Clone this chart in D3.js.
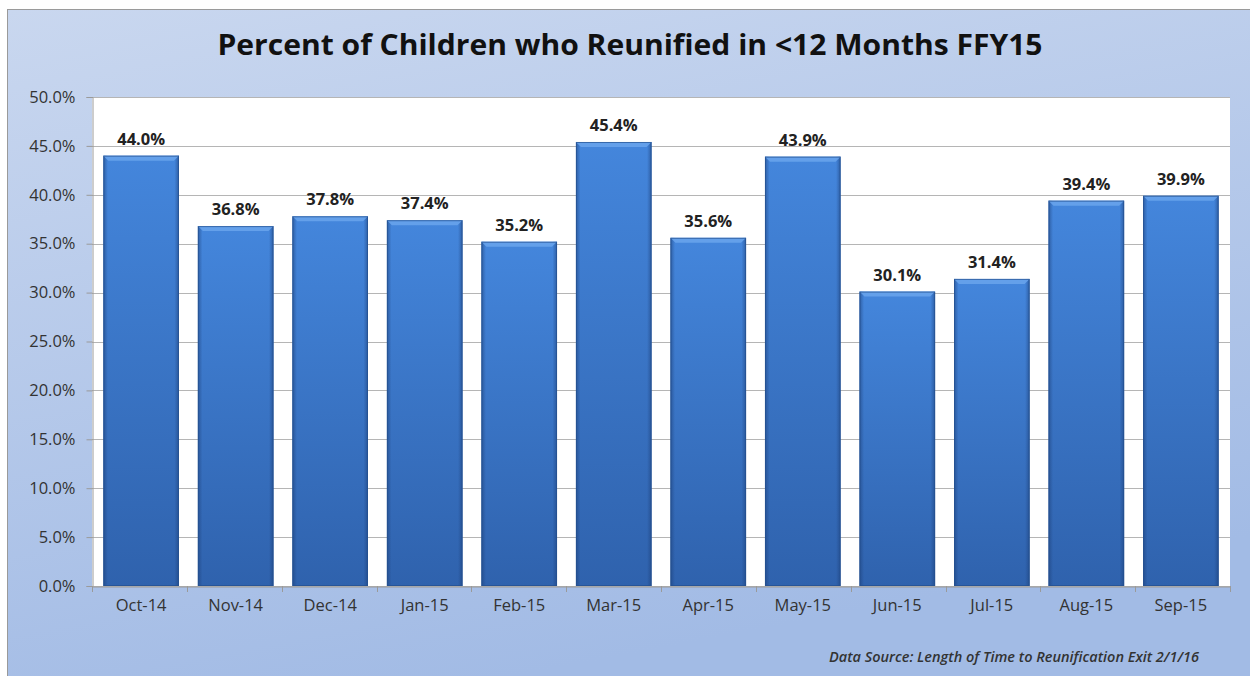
<!DOCTYPE html>
<html>
<head>
<meta charset="utf-8">
<script src="https://cdn.jsdelivr.net/npm/d3@7"></script>
<style>
  html, body { margin: 0; padding: 0; background: #ffffff; }
  svg { display: block; }
</style>
</head>
<body>
<svg id="chart" width="1250" height="676"></svg>
<script>
// Monthly reunification rates, FFY15
const months = ["Oct-14", "Nov-14", "Dec-14", "Jan-15", "Feb-15", "Mar-15",
                "Apr-15", "May-15", "Jun-15", "Jul-15", "Aug-15", "Sep-15"];
const percentReunified = [44.0, 36.8, 37.8, 37.4, 35.2, 45.4, 35.6, 43.9, 30.1, 31.4, 39.4, 39.9];
const yTicks = [0, 5, 10, 15, 20, 25, 30, 35, 40, 45, 50];
const titleText = "Percent of Children who Reunified in <12 Months FFY15";
const sourceText = "Data Source:  Length of Time to Reunification Exit 2/1/16";

const svg = d3.select("#chart");
const defs = svg.append("defs");

// Panel background: soft blue wash, lighter toward the upper right
const bg = defs.append("linearGradient").attr("id", "panelBg")
  .attr("x1", "0").attr("y1", "0").attr("x2", "0.35").attr("y2", "1");
bg.append("stop").attr("offset", "0%").attr("stop-color", "#c9d7ef");
bg.append("stop").attr("offset", "100%").attr("stop-color", "#a2bbe5");

// Bar body: vertical fade from bright to deep blue
const barV = defs.append("linearGradient").attr("id", "barV")
  .attr("x1", "0").attr("y1", "0").attr("x2", "0").attr("y2", "1");
barV.append("stop").attr("offset", "0%").attr("stop-color", "#4486dc");
barV.append("stop").attr("offset", "100%").attr("stop-color", "#2f62ad");

// Bar edges: darker sides for a bevelled look
const barH = defs.append("linearGradient").attr("id", "barH")
  .attr("x1", "0").attr("y1", "0").attr("x2", "1").attr("y2", "0");
barH.append("stop").attr("offset", "0%").attr("stop-color", "#1d3f78").attr("stop-opacity", 0.55);
barH.append("stop").attr("offset", "6%").attr("stop-color", "#1d3f78").attr("stop-opacity", 0.0);
barH.append("stop").attr("offset", "94%").attr("stop-color", "#1d3f78").attr("stop-opacity", 0.0);
barH.append("stop").attr("offset", "100%").attr("stop-color", "#1d3f78").attr("stop-opacity", 0.55);

// Outer panel
svg.append("rect")
  .attr("x", 7.5).attr("y", 9.5).attr("width", 1250).attr("height", 680)
  .attr("fill", "url(#panelBg)")
  .attr("stroke", "#9a9a9a").attr("stroke-width", 1);

const plot = { left: 92, right: 1230, top: 97, bottom: 586 };

const x = d3.scaleBand()
  .domain(months)
  .range([plot.left, plot.right])
  .paddingInner(0.2)
  .paddingOuter(0.12);

const y = d3.scaleLinear()
  .domain([0, 50])
  .range([plot.bottom, plot.top]);

// Plot area
svg.append("rect")
  .attr("x", plot.left).attr("y", plot.top)
  .attr("width", plot.right - plot.left).attr("height", plot.bottom - plot.top)
  .attr("fill", "#ffffff");

// Horizontal gridlines
svg.append("g")
  .selectAll("line")
  .data(yTicks)
  .join("line")
  .attr("x1", plot.left).attr("x2", plot.right)
  .attr("y1", d => Math.round(y(d)) + 0.5).attr("y2", d => Math.round(y(d)) + 0.5)
  .attr("stroke", "#b5b5b5").attr("stroke-width", 1);

// Y axis
const yAxis = svg.append("g")
  .attr("transform", `translate(${plot.left + 0.5},0)`)
  .call(d3.axisLeft(y).tickValues(yTicks).tickFormat(d => d.toFixed(1) + "%").tickSize(6).tickPadding(11));
yAxis.select(".domain").attr("stroke", "#9a9a9a");
yAxis.selectAll(".tick line").attr("stroke", "#9a9a9a");
yAxis.selectAll("text")
  .attr("font-family", "'Open Sans', sans-serif")
  .attr("font-size", 16.5).attr("fill", "#333");

// X axis with ticks at category boundaries
const xAxis = svg.append("g")
  .attr("transform", `translate(0,${plot.bottom + 0.5})`)
  .call(d3.axisBottom(x).tickSize(0).tickPadding(13));
xAxis.select(".domain").attr("stroke", "#9a9a9a");
xAxis.selectAll("text")
  .attr("font-family", "'Open Sans', sans-serif")
  .attr("font-size", 16.5).attr("fill", "#333");
const boundaries = d3.range(months.length + 1).map(i => plot.left + (plot.right - plot.left) * i / months.length);
svg.append("g")
  .selectAll("line")
  .data(boundaries)
  .join("line")
  .attr("x1", d => Math.round(d) + 0.5).attr("x2", d => Math.round(d) + 0.5)
  .attr("y1", plot.bottom).attr("y2", plot.bottom + 6)
  .attr("stroke", "#9a9a9a");

// Bars
const bars = svg.append("g")
  .selectAll("g")
  .data(months.map((m, i) => ({ month: m, value: percentReunified[i] })))
  .join("g");

bars.append("rect")
  .attr("x", d => x(d.month)).attr("y", d => y(d.value))
  .attr("width", x.bandwidth()).attr("height", d => y(0) - y(d.value))
  .attr("fill", "url(#barV)");
bars.append("rect")
  .attr("x", d => x(d.month)).attr("y", d => y(d.value))
  .attr("width", x.bandwidth()).attr("height", d => y(0) - y(d.value))
  .attr("fill", "url(#barH)");
// Bevelled top edge
bars.append("path")
  .attr("d", d => {
    const x0 = x(d.month), x1 = x0 + x.bandwidth(), t = y(d.value), b = 5;
    return `M${x0},${t} L${x1},${t} L${x1 - b},${t + b} L${x0 + b},${t + b} Z`;
  })
  .attr("fill", "#6aa4ec").attr("opacity", 0.85);
bars.append("rect")
  .attr("x", d => x(d.month) + 0.5).attr("y", d => y(d.value) + 0.5)
  .attr("width", x.bandwidth() - 1).attr("height", d => y(0) - y(d.value) - 1)
  .attr("fill", "none").attr("stroke", "#24508f").attr("stroke-width", 1).attr("opacity", 0.7);

// Value labels
bars.append("text")
  .attr("x", d => x(d.month) + x.bandwidth() / 2)
  .attr("y", d => y(d.value) - 11)
  .attr("text-anchor", "middle")
  .attr("font-family", "'Open Sans', sans-serif")
  .attr("font-weight", 700).attr("font-size", 16.5).attr("fill", "#222")
  .text(d => d.value.toFixed(1) + "%");

// Title
svg.append("text")
  .attr("x", 630).attr("y", 55)
  .attr("text-anchor", "middle")
  .attr("font-family", "'Open Sans', sans-serif")
  .attr("font-weight", 700).attr("font-size", 28).attr("fill", "#111")
  .attr("textLength", 825).attr("lengthAdjust", "spacingAndGlyphs")
  .text(titleText);

// Source note
svg.append("text")
  .attr("x", 1199).attr("y", 662)
  .attr("text-anchor", "end")
  .attr("font-family", "'Open Sans', sans-serif")
  .attr("font-style", "italic").attr("font-weight", 600).attr("font-size", 13.5).attr("fill", "#333")
  .attr("textLength", 370).attr("lengthAdjust", "spacingAndGlyphs")
  .text(sourceText);
</script>
</body>
</html>
